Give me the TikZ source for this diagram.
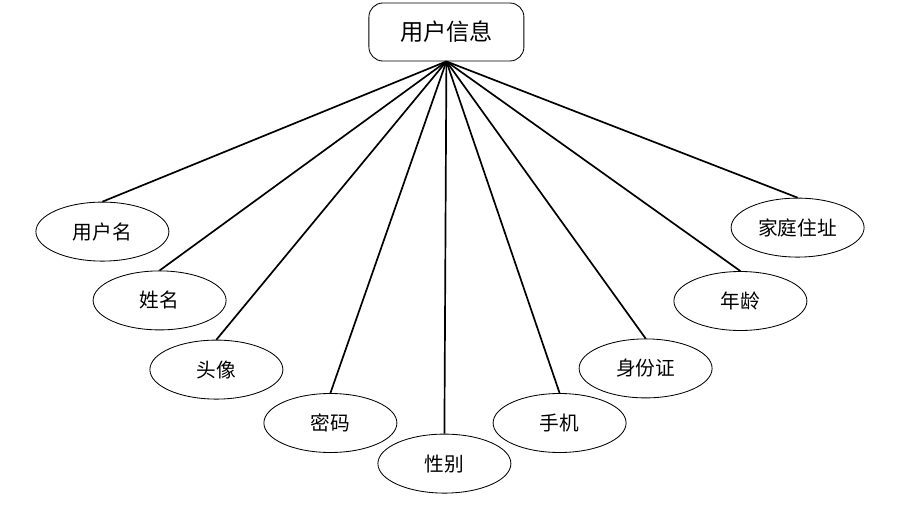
\documentclass[tikz,border=0pt]{standalone}
\usepackage{fontspec}
\newfontfamily\cjk{Noto Sans CJK SC}
\usepackage{tikz}
\usetikzlibrary{shapes.geometric}

\begin{document}
\begin{tikzpicture}[
    entity/.style={draw, rounded corners=0.35cm, line width=0.6pt, minimum width=3.875cm, minimum height=1.45cm, font=\cjk\fontsize{16.5}{18}\selectfont},
    attr/.style={draw, ellipse, line width=0.6pt, inner sep=0pt, minimum width=3.325cm, minimum height=1.475cm, font=\cjk\fontsize{14}{16}\selectfont},
    link/.style={line width=1.2pt}]
    \useasboundingbox (0,0) rectangle (22.95,12.6);
    \node[entity] (info) at (11.16, 11.8) {用户信息};
    \node[attr] (username) at (2.56, 6.81) {用户名};
    \node[attr] (name) at (3.99, 5.09) {姓名};
    \node[attr] (avatar) at (5.41, 3.36) {头像};
    \node[attr] (password) at (8.26, 2.025) {密码};
    \node[attr] (gender) at (11.11, 1.01) {性别};
    \node[attr] (phone) at (13.99, 2.025) {手机};
    \node[attr] (idcard) at (16.14, 3.39) {身份证};
    \node[attr] (age) at (18.51, 5.075) {年龄};
    \node[attr] (address) at (19.94, 6.91) {家庭住址};
    \foreach \n in {username, name, avatar, password, gender, phone, idcard, age, address}
        \draw[link] (info.south) -- (\n.north);
\end{tikzpicture}
\end{document}
